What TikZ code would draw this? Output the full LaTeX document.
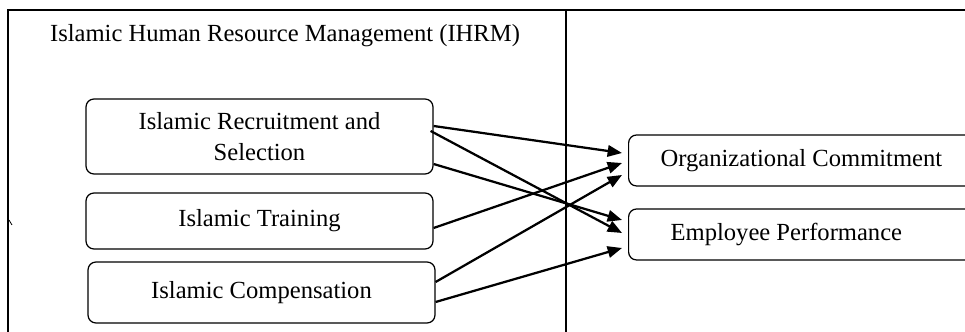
\documentclass[tikz,border=0pt]{standalone}
\usepackage{fontspec}
\setmainfont{Liberation Serif}
\usetikzlibrary{arrows.meta,calc}
\newlength\px
\setlength\px{0.01715cm}

\begin{document}
\begin{tikzpicture}[
  x=\px, y=\px,
  hrm/.style={draw, rounded corners=3.9pt, line width=0.6pt, font=\fontsize{12}{15}\selectfont,
              minimum width=347\px, align=center, inner sep=0pt},
  outbox/.style={draw, rounded corners=3.9pt, line width=0.6pt, font=\fontsize{12}{14.5}\selectfont,
              anchor=west, minimum height=51\px, text width=300\px, align=flush left, inner ysep=0pt},
  arrow/.style={-{Triangle[length=7pt,width=5.6pt]}, line width=1.1pt}
]
\clip (0,0) rectangle (965,332);

% frames
\draw[line width=0.8pt] (8,-5) -- (8,322) -- (566,322) -- (566,-5);
\draw[line width=0.5pt] (566,322) -- (975,322);
\draw[line width=0.4pt] (9,112) -- (12,107);

% IHRM title
\node[anchor=base, font=\fontsize{12}{14.5}\selectfont] (ihrm) at (285,290) {Islamic Human Resource Management (IHRM)};

% IHRM practices
\node[hrm, minimum height=75\px] (recruit) at (259.5,195.5) {Islamic Recruitment and\\Selection};
\node[hrm, minimum height=56\px] (train)   at (259.5,111)   {Islamic Training};
\node[hrm, minimum height=61\px] (comp)    at (261.5,39.5)  {Islamic Compensation};

% outcomes
\node[outbox, inner xsep=32\px] (oc) at (628,171.5) {Organizational Commitment};
\node[outbox, inner xsep=42\px] (ep) at (628,97.5)  {Employee Performance};

% arrows practices -> outcomes
\draw[arrow] ($(recruit.east)+(0,10.5)$)  -- ($(oc.west)+(-6,7.5)$);
\draw[arrow] ($(recruit.east)+(-3,5.5)$)  -- ($(ep.west)+(-6,1.5)$);
\draw[arrow] ($(recruit.east)+(0,-27.5)$) -- ($(ep.west)+(-6,14.5)$);
\draw[arrow] ($(train.east)+(0,-7)$)      -- ($(oc.west)+(-6,-2.5)$);
\draw[arrow] ($(comp.east)+(0,10.5)$)     -- ($(oc.west)+(-6,-14.5)$);
\draw[arrow] ($(comp.east)+(0,-9.5)$)     -- ($(ep.west)+(-6,-13.5)$);

\end{tikzpicture}
\end{document}
